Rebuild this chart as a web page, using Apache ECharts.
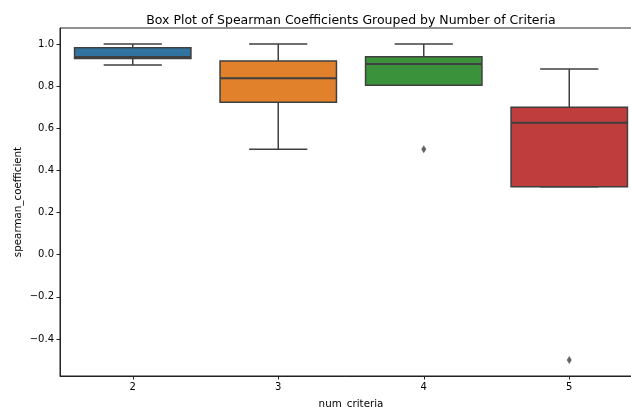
<!DOCTYPE html>
<html>
<head>
<meta charset="utf-8">
<script src="https://cdn.jsdelivr.net/npm/echarts@6/dist/echarts.min.js"></script>
<style>html,body{margin:0;padding:0;background:#fff;}#c{width:631px;height:407px;}</style>
</head>
<body>
<div id="c"></div>
<script>
var categories = ['2', '3', '4', '5'];
var whiskerLow = [0.90, 0.50, 0.804, 0.322];
var q1 = [0.931, 0.723, 0.804, 0.322];
var median = [0.938, 0.837, 0.905, 0.626];
var q3 = [0.982, 0.919, 0.940, 0.700];
var whiskerHigh = [1.00, 1.00, 1.00, 0.881];
var boxColors = ['#3274a1', '#e1812c', '#3a923a', '#c03d3e'];
var outliers = [[2, 0.50], [3, -0.50]];
var yTicks = [-0.4, -0.2, 0.0, 0.2, 0.4, 0.6, 0.8, 1.0];

var boxData = categories.map(function (c, i) {
  return [i, whiskerLow[i], q1[i], median[i], q3[i], whiskerHigh[i]];
});

var edge = '#3f3f3f';
var font = 'DejaVu Sans';

function renderBox(params, api) {
  var idx = api.value(0);
  var band = api.size([1, 0])[0];
  var boxW = band * 0.8;
  var capW = boxW * 0.5;
  var pLow = api.coord([idx, api.value(1)]);
  var pQ1 = api.coord([idx, api.value(2)]);
  var pMed = api.coord([idx, api.value(3)]);
  var pQ3 = api.coord([idx, api.value(4)]);
  var pHigh = api.coord([idx, api.value(5)]);
  var cx = pQ1[0];
  var ls = {stroke: edge, lineWidth: 1.5};
  return {
    type: 'group',
    children: [
      {type: 'line', shape: {x1: cx, y1: pQ3[1], x2: cx, y2: pHigh[1]}, style: ls},
      {type: 'line', shape: {x1: cx, y1: pQ1[1], x2: cx, y2: pLow[1]}, style: ls},
      {type: 'line', shape: {x1: cx - capW / 2, y1: pHigh[1], x2: cx + capW / 2, y2: pHigh[1]}, style: ls},
      {type: 'line', shape: {x1: cx - capW / 2, y1: pLow[1], x2: cx + capW / 2, y2: pLow[1]}, style: ls},
      {type: 'rect', shape: {x: cx - boxW / 2, y: pQ3[1], width: boxW, height: pQ1[1] - pQ3[1]},
        style: {fill: boxColors[idx], stroke: edge, lineWidth: 1.5}},
      {type: 'line', shape: {x1: cx - boxW / 2, y1: pMed[1], x2: cx + boxW / 2, y2: pMed[1]}, style: {stroke: edge, lineWidth: 2}}
    ]
  };
}

var chart = echarts.init(document.getElementById('c'), null, {renderer: 'canvas'});
chart.setOption({
  animation: false,
  backgroundColor: '#fff',
  title: {
    text: 'Box Plot of Spearman Coefficients Grouped by Number of Criteria',
    left: 346, top: 9, textAlign: 'center',
    textStyle: {fontFamily: font, fontSize: 12.5, fontWeight: 'normal', color: '#000'}
  },
  grid: {left: 60, width: 582, top: 28, height: 348, outerBoundsMode: 'none', containLabel: false,
    show: true, borderColor: '#222', borderWidth: 1, backgroundColor: 'transparent'},
  xAxis: {
    type: 'category', data: categories, boundaryGap: true,
    name: 'num_criteria', nameLocation: 'middle', nameGap: 23, nameMoveOverlap: false,
    nameTextStyle: {fontFamily: font, fontSize: 10.3, color: '#000'},
    axisLine: {show: true, onZero: false, lineStyle: {color: '#222', width: 1}},
    axisTick: {show: true, alignWithLabel: true, length: 3.5, lineStyle: {color: '#222'}},
    axisLabel: {fontFamily: font, fontSize: 10, color: '#000', margin: 6},
    splitLine: {show: false}
  },
  yAxis: {
    type: 'value', min: -0.576, max: 1.076,
    name: 'spearman_coefficient', nameLocation: 'middle', nameGap: 37, nameRotate: 90, nameMoveOverlap: false,
    nameTextStyle: {fontFamily: font, fontSize: 10.3, color: '#000'},
    axisLine: {show: true, lineStyle: {color: '#222', width: 1}},
    axisTick: {show: true, length: 3.5, lineStyle: {color: '#222'}, customValues: yTicks},
    axisLabel: {fontFamily: font, fontSize: 10, color: '#000', margin: 6, customValues: yTicks,
      formatter: function (v) { return v.toFixed(1).replace('-', '\u2212'); }},
    splitLine: {show: false}
  },
  series: [
    {type: 'custom', renderItem: renderBox, data: boxData, encode: {x: 0, y: [1, 2, 3, 4, 5]}, clip: false},
    {type: 'scatter', data: outliers, symbol: 'diamond', symbolSize: [5, 8],
      itemStyle: {color: '#3f3f3f'}}
  ]
});
</script>
</body>
</html>
